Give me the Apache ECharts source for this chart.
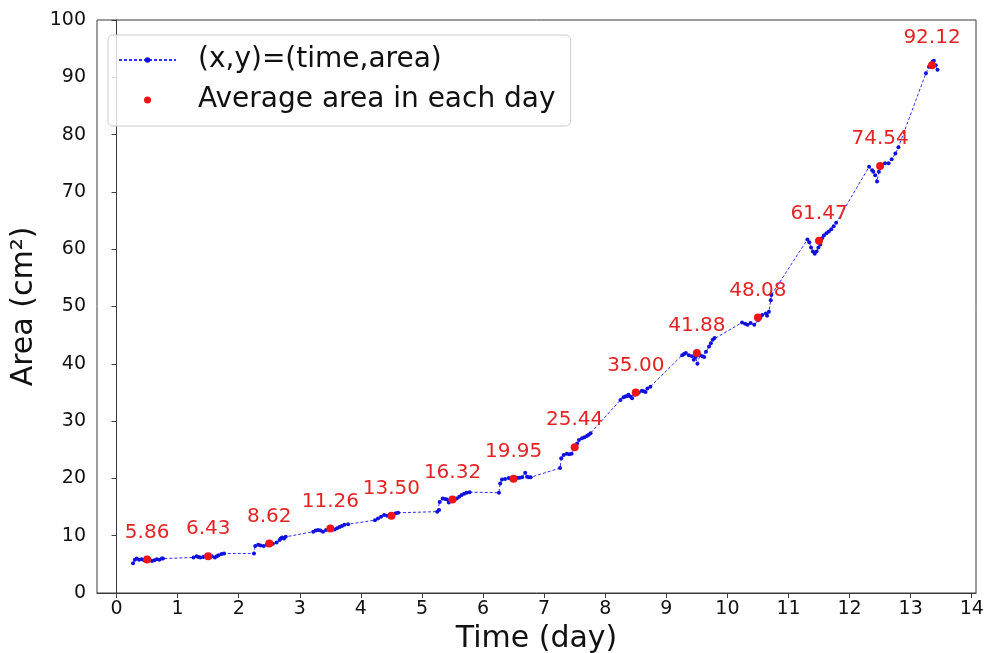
<!DOCTYPE html>
<html><head><meta charset="utf-8">
<script src="https://cdn.jsdelivr.net/npm/echarts@6/dist/echarts.min.js"></script>
<style>html,body{margin:0;padding:0;background:#fff}#chart{width:985px;height:653px}</style>
</head><body><div id="chart"></div>
<script>
const times = [
  0.27,0.30,0.33,0.37,0.41,0.45,0.50,0.54,0.58,0.62,0.66,0.70,0.74,0.76,
  1.26,1.31,1.34,1.37,1.42,1.46,1.49,1.53,1.56,1.61,1.64,1.67,1.72,1.76,
  2.25,2.27,2.32,2.36,2.41,2.46,2.50,2.56,2.62,2.67,2.69,2.71,2.74,2.77,
  3.22,3.26,3.30,3.34,3.38,3.43,3.49,3.53,3.57,3.61,3.65,3.69,3.73,3.79,
  4.23,4.28,4.33,4.38,4.43,4.48,4.53,4.57,4.61,
  5.25,5.28,5.29,5.34,5.38,5.41,5.44,5.50,5.54,5.57,5.61,5.65,5.69,5.73,5.78,
  6.26,6.28,6.31,6.36,6.42,6.46,6.50,6.56,6.60,6.64,6.69,6.72,6.75,6.78,
  7.26,7.28,7.32,7.37,7.41,7.45,7.50,7.54,7.57,7.62,7.66,7.70,7.73,7.76,
  8.25,8.30,8.33,8.36,8.38,8.41,8.44,8.48,8.51,8.55,8.60,8.63,8.66,8.69,8.74,
  9.26,9.29,9.32,9.37,9.42,9.45,9.48,9.51,9.55,9.59,9.62,9.65,9.70,9.73,9.76,9.79,
  10.24,10.29,10.33,10.38,10.44,10.50,10.54,10.57,10.63,10.65,10.68,10.71,10.72,
  11.31,11.34,11.37,11.40,11.43,11.46,11.49,11.52,11.55,11.58,11.62,11.66,11.70,11.74,11.78,
  12.32,12.37,12.39,12.42,12.45,12.48,12.53,12.58,12.64,12.69,12.75,12.80,
  13.25,13.30,13.36,13.38,13.41,13.44
];
const areas = [
  5.2,5.8,6.0,5.8,5.9,5.7,5.8,5.9,5.6,5.7,5.9,5.8,6.0,6.0,
  6.2,6.4,6.3,6.2,6.3,6.4,6.3,6.3,6.4,6.2,6.4,6.6,6.8,6.9,
  6.9,8.2,8.4,8.3,8.2,8.4,8.6,8.6,8.8,9.25,9.5,9.7,9.5,9.8,
  10.7,10.9,11.0,10.9,10.7,11.0,11.2,11.2,11.1,11.3,11.5,11.7,11.9,12.0,
  12.7,13.0,13.3,13.6,13.5,13.4,13.6,13.9,14.0,
  14.2,14.5,15.9,16.5,16.4,16.3,15.8,16.3,16.4,16.5,16.8,17.1,17.3,17.5,17.6,
  17.5,19.1,19.8,19.9,20.05,19.9,19.9,20.05,20.1,20.2,21.0,20.3,20.2,20.2,
  21.8,23.5,24.1,24.3,24.2,24.3,25.4,26.1,26.7,27.0,27.2,27.4,27.6,27.9,
  33.7,34.15,34.3,34.4,34.6,34.3,34.0,34.6,35.0,35.0,35.3,35.2,35.1,35.7,36.0,
  41.5,41.7,41.9,41.5,41.3,40.7,41.2,40.0,41.5,41.3,41.2,42.1,43.0,43.6,44.2,44.5,
  47.2,47.0,46.8,47.1,46.8,47.6,48.1,48.5,48.8,48.4,49.1,51.1,52.0,
  61.7,61.2,60.3,59.6,59.2,59.6,60.3,60.8,61.9,62.4,62.8,63.1,63.5,64.0,64.6,
  74.4,73.8,73.5,72.9,71.8,73.5,74.5,75.0,75.0,75.7,76.7,77.8,
  90.7,91.85,92.7,92.9,92.1,91.3
];
// Daily averages
const dayMeanTimes = [0.5,1.5,2.5,3.5,4.5,5.5,6.5,7.5,8.5,9.5,10.5,11.5,12.5,13.35];
const dayMeanAreas = [5.86,6.43,8.62,11.26,13.50,16.32,19.95,25.44,35.00,41.88,48.08,61.47,74.54,92.12];
const xTickValues = [0,1,2,3,4,5,6,7,8,9,10,11,12,13,14];
const yTickValues = [0,10,20,30,40,50,60,70,80,90,100];

const trackData = times.map((t, i) => [t, areas[i]]);
const meanData = dayMeanTimes.map((t, i) => [t, dayMeanAreas[i]]);

const FONT = 'DejaVu Sans';
const chart = echarts.init(document.getElementById('chart'), null, {renderer: 'canvas'});
chart.setOption({
  backgroundColor: '#ffffff',
  animation: false,
  textStyle: {fontFamily: FONT},
  grid: {left: 97, right: 9, top: 20, bottom: 60, outerBoundsMode: 'none', containLabel: false,
         show: true, borderColor: '#3a3a3a', borderWidth: 1, backgroundColor: 'transparent'},
  legend: {
    orient: 'vertical',
    left: 108, top: 35,
    padding: [8, 15, 9, 10],
    itemWidth: 57, itemHeight: 7, itemGap: 6,
    backgroundColor: 'rgba(255,255,255,0.8)',
    borderColor: '#cccccc', borderWidth: 1, borderRadius: 5,
    textStyle: {fontFamily: FONT, fontSize: 28, lineHeight: 34, color: '#111111', padding: [0, 0, 0, 17]},
    data: [
      {name: '(x,y)=(time,area)'},
      {name: 'Average area in each day', icon: 'circle'}
    ]
  },
  xAxis: {
    type: 'value', min: -0.32, max: 14.07,
    name: 'Time (day)', nameLocation: 'middle', nameGap: 22,
    nameTextStyle: {fontFamily: FONT, fontSize: 30, color: '#111111'},
    axisLine: {show: true, lineStyle: {color: '#3a3a3a', width: 1}},
    axisTick: {show: true, length: 5, customValues: xTickValues, lineStyle: {color: '#3a3a3a'}},
    axisLabel: {customValues: xTickValues, fontFamily: FONT, fontSize: 19, color: '#111111', margin: 7},
    splitLine: {show: false}
  },
  yAxis: {
    type: 'value', min: 0, max: 100, interval: 10,
    name: 'Area (cm²)', nameLocation: 'middle', nameGap: 47,
    nameTextStyle: {fontFamily: FONT, fontSize: 30, color: '#111111'},
    axisLine: {show: true, lineStyle: {color: '#3a3a3a', width: 1}},
    axisTick: {show: true, length: 5, lineStyle: {color: '#3a3a3a'}},
    axisLabel: {fontFamily: FONT, fontSize: 19, color: '#111111', margin: 11},
    splitLine: {show: false}
  },
  series: [
    {
      name: '(x,y)=(time,area)',
      type: 'line',
      data: trackData,
      symbol: 'circle', symbolSize: 4,
      showAllSymbol: true,
      itemStyle: {color: '#1010e0', opacity: 1},
      lineStyle: {color: '#3030ff', width: 1, type: [3, 2]},
      z: 2
    },
    {
      name: 'Average area in each day',
      type: 'scatter',
      data: meanData,
      symbol: 'circle', symbolSize: 8,
      itemStyle: {color: '#f01414', opacity: 1},
      label: {
        show: true, position: 'top', distance: 13,
        fontFamily: FONT, fontSize: 20, color: '#e42424',
        formatter: p => p.value[1].toFixed(2)
      },
      z: 3
    }
  ]
});
</script>
</body></html>
